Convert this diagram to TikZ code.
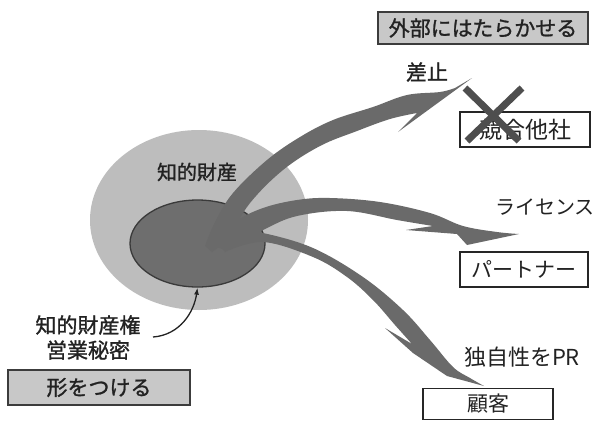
\documentclass[tikz,border=0pt]{standalone}
\usepackage{fontspec}
\setmainfont{Noto Sans CJK JP}
\newfontfamily\medfont{Noto Sans CJK JP}[FakeBold=1.2]
\usetikzlibrary{arrows.meta,shapes.geometric}
\definecolor{outerg}{HTML}{BDBDBD}
\definecolor{innerg}{HTML}{6E6E6E}
\definecolor{innerline}{HTML}{3A3A3A}
\definecolor{arrowg}{HTML}{6A6A6A}
\definecolor{boxfill}{HTML}{C8C8C8}
\definecolor{boxline}{HTML}{3C3C3C}
\definecolor{txt}{HTML}{222222}
\definecolor{crossc}{HTML}{4E4E4E}
\begin{document}
\begin{tikzpicture}[x=1pt,y=-1pt,
  graybox/.style={draw=boxline, fill=boxfill, line width=1.3pt, inner sep=0pt, text=txt, font=\medfont\fontsize{21}{24}\selectfont},
  whitebox/.style={draw=black!85, fill=white, line width=1.1pt, inner sep=0pt, text=txt, font=\fontsize{21}{24}\selectfont},
  lbl/.style={inner sep=0pt, text=txt, font=\fontsize{20}{24}\selectfont},
  boldlbl/.style={inner sep=0pt, text=txt, font=\medfont\fontsize{21}{25}\selectfont},
  bigarrow/.style={fill=arrowg},
  crossline/.style={draw=crossc, line width=7pt}]
\useasboundingbox (0,0) rectangle (596,421);
\fill[white] (0,0) rectangle (596,421);

% ellipses
\node[ellipse, fill=outerg, minimum width=218pt, minimum height=180pt, inner sep=0pt] (ip) at (199,220) {};
\node[ellipse, fill=innerg, draw=innerline, line width=1.3pt, minimum width=135pt, minimum height=87pt, inner sep=0pt] (core) at (197.5,243.5) {};
\node[boldlbl, font=\medfont\fontsize{20}{24}\selectfont] (iptext) at (197,172) {知的財産};

% big curved arrows
\fill[bigarrow] plot[smooth, tension=0.6] coordinates {(205,246) (215,222) (233,193) (267,160) (300,137) (333,120) (373,107) (407,95) (440,92) (455,88)}
  -- (472,78) -- (398,132) -- (417,113)
  -- plot[smooth, tension=0.6] coordinates {(417,113) (390,119) (357,131) (320,146) (283,170) (250,203) (228,238) (212,252)} -- cycle;
\fill[bigarrow] plot[smooth, tension=0.6] coordinates {(212,245) (235,222) (263,208) (297,200) (330,198) (380,202) (430,213) (463,226) (497,232) (519,234)}
  -- (467,245) -- (457,234) -- (406,230) -- (433,226)
  -- plot[smooth, tension=0.6] coordinates {(433,226) (397,220) (347,211) (297,216) (263,230) (225,250)} -- cycle;
\fill[bigarrow] plot[smooth, tension=0.6] coordinates {(215,240) (240,232) (263,233) (313,248) (363,277) (403,310) (430,340) (453,367) (470,378) (484,386)}
  -- (447,376) -- (413,353) -- (385,328) -- (412,344)
  -- plot[smooth, tension=0.6] coordinates {(412,344) (395,325) (373,300) (347,277) (313,257) (263,242) (225,252)} -- cycle;

% right side
\node[graybox, minimum width=210pt, minimum height=32pt] (outside) at (483,28) {外部にはたらかせる};
\node[boldlbl] (sashi) at (427,72) {差止};
\node[whitebox, minimum width=130pt, minimum height=35pt, font=\fontsize{23}{26}\selectfont] (rival) at (525,129.5) {競合他社};
\draw[crossline] (465,88) -- (519,141);
\draw[crossline] (522,88) -- (467,141);
\node[lbl] (lic) at (545,207) {ライセンス};
\node[whitebox, minimum width=128pt, minimum height=35pt] (partner) at (524,269.5) {パートナー};
\node[lbl, font=\fontsize{22}{26}\selectfont] (pr) at (522,357) {独自性をPR};
\node[whitebox, minimum width=130pt, minimum height=31pt] (kokyaku) at (488,404) {顧客};

% left bottom
\node[boldlbl, align=center] (ipr) at (88,337.5) {知的財産権\\営業秘密};
\node[graybox, minimum width=182pt, minimum height=35pt] (katachi) at (99,387.5) {形をつける};
\coordinate (ptr) at (153,337);
\draw[txt, line width=1.3pt, -{Latex[length=7pt,width=5pt]}] (ptr) .. controls (180,335) and (194,312) .. (core.south);
\end{tikzpicture}
\end{document}
